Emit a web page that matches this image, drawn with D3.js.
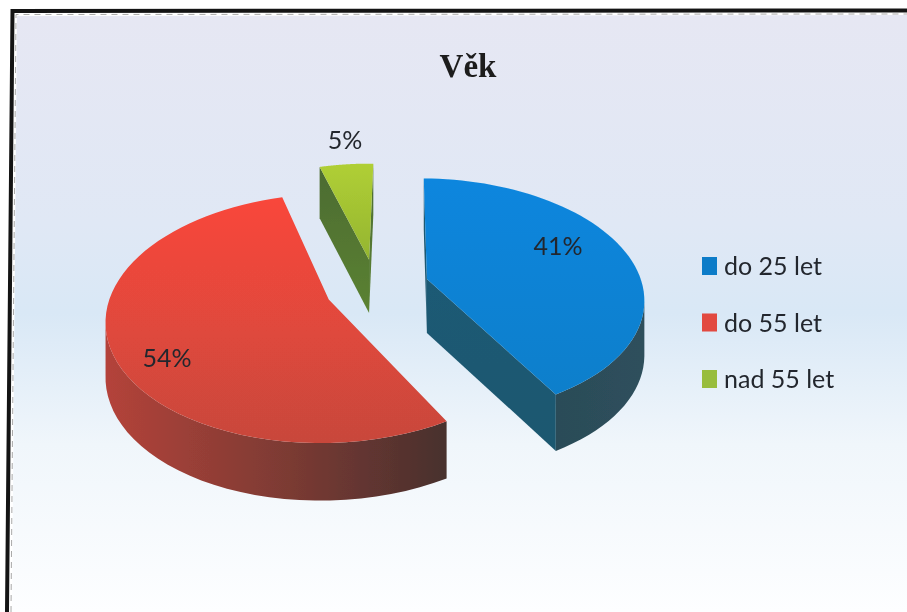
<!DOCTYPE html>
<html>
<head>
<meta charset="utf-8">
<script src="https://cdn.jsdelivr.net/npm/d3@7"></script>
<style>
  html, body { margin: 0; padding: 0; background: #fff; }
  svg { display: block; }
</style>
</head>
<body>
<svg id="chart" width="907" height="612"></svg>
<script>
// data
var categories = ["do 25 let", "do 55 let", "nad 55 let"];
var values = [41, 54, 5];
var topColors = ["url(#blueTop)", "url(#redTop)", "url(#greenTop)"];
var legendColors = ["#0f7cc8", "#e2483f", "#98bd3c"];
var title = "Věk";

var width = 907, height = 612;
var svg = d3.select("#chart");
var defs = svg.append("defs");

function grad(id, x2, y2, stops) {
  var g = defs.append("linearGradient").attr("id", id)
    .attr("x1", 0).attr("y1", 0).attr("x2", x2).attr("y2", y2);
  stops.forEach(function (s) {
    g.append("stop").attr("offset", s[0]).attr("stop-color", s[1]);
  });
}
grad("bg", 0, 1, [[0, "#e6e7f3"], [0.35, "#e0e8f5"], [0.5, "#d9e8f6"], [0.72, "#f0f6fb"], [1, "#fdfeff"]]);
grad("blueTop", 0, 1, [[0, "#0a86de"], [1, "#0f7fcb"]]);
grad("redTop", 0, 1, [[0, "#f9463a"], [0.55, "#df483c"], [1, "#c8473b"]]);
grad("greenTop", 0, 1, [[0, "#b0cf36"], [1, "#94b52f"]]);
grad("redSide", 1, 0, [[0, "#b4433a"], [0.55, "#7a3a33"], [1, "#48302d"]]);
grad("blueSide", 1, 0, [[0, "#2b4c58"], [1, "#2e4f5c"]]);
grad("blueWall", 0, 1, [[0, "#1f5a74"], [1, "#1f5870"]]);
grad("greenWall", 0, 1, [[0, "#4c6b33"], [1, "#5b8232"]]);

defs.append("filter").attr("id", "soft")
  .append("feGaussianBlur").attr("stdDeviation", 0.7);
defs.append("filter").attr("id", "softText")
  .append("feGaussianBlur").attr("stdDeviation", 0.35);

// frame, the scan is slightly skewed
svg.append("rect").attr("width", width).attr("height", height).attr("fill", "#fff");
svg.append("path").attr("d", "M17,16L907,15V612H12Z").attr("fill", "url(#bg)");
svg.append("path").attr("d", "M7,612L12.5,11L907,10.5").attr("fill", "none")
  .attr("stroke", "#141414").attr("stroke-width", 4);
svg.append("path").attr("d", "M11,612L16,14.5L907,14").attr("fill", "none")
  .attr("stroke", "#a9a9a9").attr("stroke-width", 1).attr("stroke-dasharray", "6 5");

// perspective pie: plane coords to screen
var cx = 377, cy = 287, radius = 216, tilt = 118, persp = 0.15, depth = 54, explode = 0.243;
var xScale = d3.scaleLinear().domain([0, 1]).range([0, radius]);
var yScale = d3.scaleLinear().domain([0, 1]).range([0, tilt]);

function project(X, Y) {
  var s = 1 / (1 - persp * Y);
  return [cx + xScale(X) * s, cy + yScale(Y) * s];
}
// walls get taller towards the viewer
function drop(p) {
  return [p[0], p[1] + depth * (1 + 0.05 * (p[1] - cy) / tilt)];
}
// the wide angle view moves points a little along the rim
function view(a) {
  return a + (2.8 - 2.95 * Math.sin(a) - 1.78 * Math.cos(a)) * Math.PI / 180;
}

var pie = d3.pie().sort(null).startAngle(0).endAngle(2 * Math.PI);
var arcs = pie(values);
var line = d3.line();

var chart = svg.append("g").attr("filter", "url(#soft)");

var wallFills = ["url(#blueWall)", "url(#redSide)", "url(#greenWall)"];
var sideFills = ["url(#blueSide)", "url(#redSide)", "url(#greenWall)"];

arcs.forEach(function (d, i) {
  var mid = (d.startAngle + d.endAngle) / 2;
  var ox = explode * Math.sin(mid), oy = -explode * Math.cos(mid);
  var outline = d3.range(0, 61).map(function (k) {
    var a = view(d.startAngle + (d.endAngle - d.startAngle) * k / 60);
    return project(ox + Math.sin(a), oy - Math.cos(a));
  });
  var apex = project(ox, oy);
  var first = outline[0], last = outline[outline.length - 1];

  // radial walls, only when they face the viewer
  function wall(a, b) {
    if (b[0] >= a[0]) return;
    chart.append("path")
      .attr("d", line([a, b, drop(b), drop(a)]) + "Z")
      .attr("fill", wallFills[i]);
  }
  wall(apex, first);
  wall(last, apex);

  // outer wall: the run of the rim going right to left
  var front = outline.filter(function (p, k) {
    var q = outline[k + 1] || p, o = outline[k - 1] || p;
    return q[0] < p[0] || o[0] > p[0];
  });
  if (front.length > 1) {
    chart.append("path")
      .attr("d", line(front.concat(front.map(drop).reverse())) + "Z")
      .attr("fill", sideFills[i]);
  }

  // top face
  chart.append("path")
    .attr("d", line([apex].concat(outline)) + "Z")
    .attr("fill", topColors[i]);
});

var texts = svg.append("g").attr("filter", "url(#softText)");

// percentage labels, hand placed as in the original
var labelFont = "Lato, 'Open Sans', sans-serif";
var labelPos = [[558, 255], [167, 367], [345, 149]];
texts.append("g").selectAll("text").data(arcs).enter().append("text")
  .attr("x", function (d, i) { return labelPos[i][0]; })
  .attr("y", function (d, i) { return labelPos[i][1]; })
  .attr("text-anchor", "middle")
  .attr("font-family", labelFont)
  .attr("font-size", 25)
  .attr("fill", "#23272d")
  .text(function (d) { return d.data + "%"; });

// title
texts.append("text")
  .attr("x", 468).attr("y", 77)
  .attr("text-anchor", "middle")
  .attr("font-family", "'Liberation Serif', serif")
  .attr("font-weight", "bold")
  .attr("font-size", 33)
  .attr("fill", "#1c1c1c")
  .text(title);

// legend
var legendY = d3.scalePoint().domain(categories).range([257, 370]);
var legend = texts.append("g").selectAll("g").data(categories).enter().append("g")
  .attr("transform", function (d) { return "translate(702," + legendY(d) + ")"; });
legend.append("rect").attr("width", 15).attr("height", 18)
  .attr("fill", function (d, i) { return legendColors[i]; });
legend.append("text").attr("x", 22).attr("y", 18)
  .attr("font-family", labelFont)
  .attr("font-size", 25)
  .attr("fill", "#23272d")
  .text(function (d) { return d; });
</script>
</body>
</html>
